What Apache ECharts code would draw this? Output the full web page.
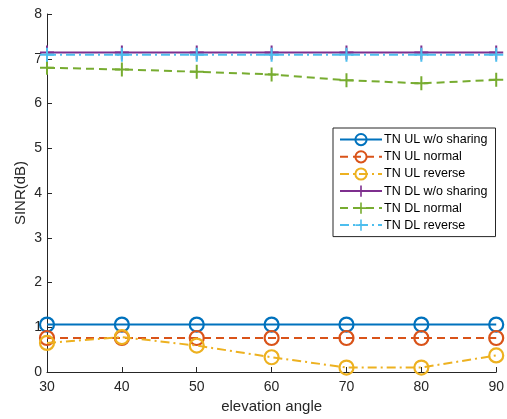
<!DOCTYPE html>
<html><head><meta charset="utf-8">
<script src="https://cdn.jsdelivr.net/npm/echarts@6/dist/echarts.min.js"></script>
<style>html,body{margin:0;padding:0;background:#fff}#c{width:507px;height:419px}</style>
</head><body><div id="c"></div>
<script>
const angles = [30, 40, 50, 60, 70, 80, 90];
const ulNoShare = [1.06, 1.06, 1.06, 1.06, 1.06, 1.06, 1.06];
const ulNormal = [0.76, 0.76, 0.76, 0.76, 0.76, 0.76, 0.76];
const ulReverse = [0.65, 0.78, 0.59, 0.33, 0.10, 0.10, 0.37];
const dlNoShare = [7.14, 7.14, 7.14, 7.14, 7.14, 7.14, 7.14];
const dlNormal = [6.80, 6.76, 6.71, 6.65, 6.52, 6.45, 6.53];
const dlReverse = [7.09, 7.09, 7.09, 7.09, 7.09, 7.09, 7.09];
const seriesNames = ['TN UL w/o sharing','TN UL normal','TN UL reverse','TN DL w/o sharing','TN DL normal','TN DL reverse'];
const yTicks = [0,1,2,3,4,5,6,7,8];
const xTicks = angles;

const colors = ['#0072BD','#D95319','#EDB120','#7E2F8E','#77AC30','#4DBEEE'];
const dash = [8,5];
const dashDot = [9,4,2,4];
const lineTypes = ['solid', dash, dashDot, 'solid', dash, dashDot];
const plus = 'path://M6,0H8V6H14V8H8V14H6V8H0V6H6Z';
const datas = [ulNoShare, ulNormal, ulReverse, dlNoShare, dlNormal, dlReverse];

const series = datas.map((d, i) => {
  const isCircle = i < 3;
  return {
    name: seriesNames[i],
    type: 'line',
    data: angles.map((a, k) => [a, d[k]]),
    symbol: isCircle ? 'circle' : plus,
    symbolSize: 14,
    showAllSymbol: true,
    lineStyle: {color: colors[i], width: 2, type: lineTypes[i]},
    itemStyle: isCircle ? {color: 'rgba(0,0,0,0)', borderColor: colors[i], borderWidth: 2.2} : {color: colors[i], borderWidth: 0},
    emphasis: {disabled: true},
    animation: false,
    z: 2 + i
  };
});

const chart = echarts.init(document.getElementById('c'), null, {renderer: 'canvas'});
chart.setOption({
  animation: false,
  backgroundColor: '#fff',
  textStyle: {fontFamily: 'Liberation Sans, Arial, sans-serif'},
  grid: {left: 47, right: 10, top: 14, bottom: 45, containLabel: false},
  xAxis: {
    type: 'value', min: 30, max: 90, interval: 10,
    name: 'elevation angle', nameLocation: 'middle', nameGap: 27, nameMoveOverlap: false,
    nameTextStyle: {color: '#262626', fontSize: 15},
    axisLine: {show: true, lineStyle: {color: '#262626', width: 1}},
    axisTick: {show: true, inside: true, length: 5, lineStyle: {color: '#262626'}},
    axisLabel: {color: '#262626', fontSize: 14, margin: 8, formatter: v => xTicks.includes(v) ? String(v) : ''},
    splitLine: {show: false}
  },
  yAxis: {
    type: 'value', min: 0, max: 8, interval: 1,
    name: 'SINR(dB)', nameLocation: 'middle', nameGap: 19, nameRotate: 90, nameMoveOverlap: false,
    nameTextStyle: {color: '#262626', fontSize: 15},
    axisLine: {show: true, lineStyle: {color: '#262626', width: 1}},
    axisTick: {show: true, inside: true, length: 5, lineStyle: {color: '#262626'}},
    axisLabel: {color: '#262626', fontSize: 14, margin: 5, formatter: v => yTicks.includes(v) ? String(v) : ''},
    splitLine: {show: false}
  },
  legend: {
    orient: 'vertical', left: 333, top: 128,
    backgroundColor: '#fff', borderColor: '#262626', borderWidth: 1,
    padding: [5, 8, 5, 6],
    itemWidth: 42, itemHeight: 14, itemGap: 4,
    textStyle: {color: '#000', fontSize: 12.5, padding: [0,0,0,-3]},
    data: seriesNames
  },
  series: series
});
</script></body></html>
